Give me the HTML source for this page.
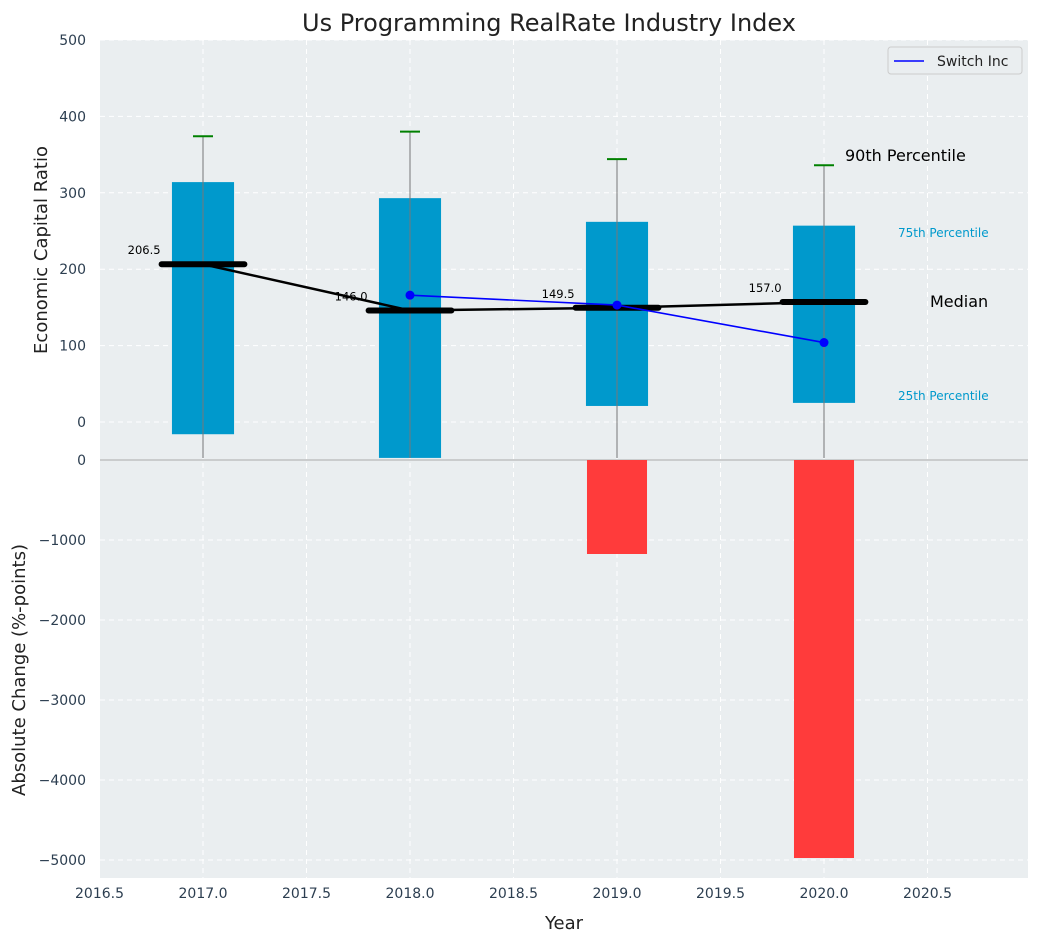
<!DOCTYPE html>
<html><head><meta charset="utf-8"><style>
body{margin:0;background:#fff;font-family:"Liberation Sans","DejaVu Sans",sans-serif}
svg text{font-family:"DejaVu Sans","Liberation Sans",sans-serif}
</style></head><body>
<svg id="c" width="1039" height="942" xmlns="http://www.w3.org/2000/svg"></svg>
<script>
const years=[2017,2018,2019,2020];
const q75=[314,293,262,257];
const q25=[-16,-47,21,25];
const p90=[374,380,344,336];
const medians=[206.5,146.0,149.5,157.0];
const switchYears=[2018,2019,2020];
const switchVals=[166,153,104];
const changeYears=[2019,2020];
const changeVals=[-1175,-4975];
const topTicks=[0,100,200,300,400,500];
const botTicks=[0,-1000,-2000,-3000,-4000,-5000];
const xTicks=[2016.5,2017,2017.5,2018,2018.5,2019,2019.5,2020,2020.5];

const NS="http://www.w3.org/2000/svg";
const svg=document.getElementById('c');
const L=100,R=1028,T1=40,B1=460,T2=460,B2=878;
const X=v=>203+(v-2017)*207;
const Y1=v=>422-v*0.764;
const Y2=v=>460-v*0.08;
function el(t,a,txt){const e=document.createElementNS(NS,t);for(const k in a)e.setAttribute(k,a[k]);if(txt!=null)e.textContent=txt;svg.appendChild(e);return e;}

let e=el('rect',{x:L,y:T1,width:R-L,height:B1-T1,fill:'#eaeef0'});


e=el('rect',{x:L,y:T2,width:R-L,height:B2-T2,fill:'#eaeef0'});



xTicks.forEach(v=>{
 e=el('line',{x1:X(v),x2:X(v),y1:T1,y2:B2,stroke:'#fff','stroke-dasharray':'5,4','stroke-width':1});
 
 
 e=el('text',{x:X(v),y:B2+20,'text-anchor':'middle','font-size':14,fill:'#2c3e50'},v.toFixed(1));
 
 
});
topTicks.forEach(v=>{
 e=el('line',{x1:L,x2:R,y1:Y1(v),y2:Y1(v),stroke:'#fff','stroke-dasharray':'5,4'});
 
 
 e=el('text',{x:L-14,y:Y1(v)+5,'text-anchor':'end','font-size':14,fill:'#2c3e50'},v);
 
 
});
botTicks.forEach(v=>{
 e=el('line',{x1:L,x2:R,y1:Y2(v),y2:Y2(v),stroke:'#fff','stroke-dasharray':'5,4'});
 
 
 e=el('text',{x:L-14,y:Y2(v)+5,'text-anchor':'end','font-size':14,fill:'#2c3e50'},v<0?'\u2212'+(-v):v);
 
 
});

years.forEach((y,i)=>{
 e=el('rect',{x:X(y-0.15),y:Y1(q75[i]),width:X(y+0.15)-X(y-0.15),height:Y1(q25[i])-Y1(q75[i]),fill:'#0099cc'});
 
 
 e=el('line',{x1:X(y),x2:X(y),y1:Y1(p90[i]),y2:458,stroke:'#777','stroke-width':1});
 
 
 e=el('line',{x1:X(y)-10,x2:X(y)+10,y1:Y1(p90[i]),y2:Y1(p90[i]),stroke:'green','stroke-width':2});
 
 
});
e=el('line',{x1:L,x2:R,y1:460,y2:460,stroke:'#aaa','stroke-width':1});



e=el('polyline',{points:years.map((y,i)=>X(y)+','+Y1(medians[i])).join(' '),fill:'none',stroke:'#000','stroke-width':2.5});


years.forEach((y,i)=>{
 e=el('line',{x1:X(y-0.2),x2:X(y+0.2),y1:Y1(medians[i]),y2:Y1(medians[i]),stroke:'#000','stroke-width':6,'stroke-linecap':'round'});
 
 
 e=el('text',{x:X(y-0.2)-1,y:Y1(medians[i])-10,'text-anchor':'end','font-size':11.5,fill:'#000'},medians[i].toFixed(1));
 
 
});
e=el('polyline',{points:switchYears.map((y,i)=>X(y)+','+Y1(switchVals[i])).join(' '),fill:'none',stroke:'blue','stroke-width':1.6});


switchYears.forEach((y,i)=>{
 e=el('circle',{cx:X(y),cy:Y1(switchVals[i]),r:4.5,fill:'blue'});
 
 
});
changeYears.forEach((y,i)=>{
 e=el('rect',{x:X(y-0.145),y:Y2(0),width:X(y+0.145)-X(y-0.145),height:Y2(changeVals[i])-Y2(0),fill:'#ff3b3b'});
 
 
});

[['90th Percentile',845,161,16,'#000','annotation-90th'],['75th Percentile',898,237,12,'#0099cc','annotation-75th'],['Median',930,307,16,'#000','annotation-median'],['25th Percentile',898,400,12,'#0099cc','annotation-25th']].forEach(a=>{
 e=el('text',{x:a[1],y:a[2],'font-size':a[3],fill:a[4]},a[0]);
 
 
});

e=el('rect',{x:888,y:47,width:134,height:27,fill:'#eaeef0',stroke:'#ccc',rx:3});


e=el('line',{x1:894,x2:924,y1:61,y2:61,stroke:'blue','stroke-width':1.6});


e=el('text',{x:937,y:66,'font-size':14,fill:'#222'},'Switch Inc');



e=el('text',{x:549,y:31,'text-anchor':'middle','font-size':24,fill:'#222'},'Us Programming RealRate Industry Index');


e=el('text',{x:564,y:929,'text-anchor':'middle','font-size':18,fill:'#222'},'Year');


e=el('text',{x:47,y:250,'text-anchor':'middle','font-size':18,fill:'#222',transform:'rotate(-90 47 250)'},'Economic Capital Ratio');


e=el('text',{x:25,y:670,'text-anchor':'middle','font-size':18,fill:'#222',transform:'rotate(-90 25 670)'},'Absolute Change (%-points)');


</script>
</body></html>
